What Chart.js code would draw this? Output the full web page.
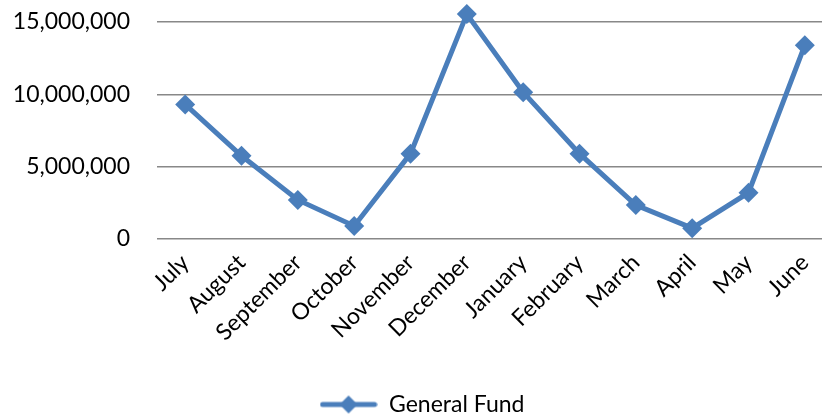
<!DOCTYPE html>
<html>
<head>
<meta charset="utf-8">
<script src="https://cdn.jsdelivr.net/npm/chart.js@4"></script>
<style>
  html, body { margin: 0; padding: 0; background: #fff; overflow: hidden; }
  #wrap { width: 822px; height: 414px; overflow: hidden; }
  #wrap div { width: 860px; height: 414px; }
</style>
</head>
<body>
<div id="wrap"><div><canvas id="chart"></canvas></div></div>
<script>
const months = ['July', 'August', 'September', 'October', 'November', 'December',
    'January', 'February', 'March', 'April', 'May', 'June'];
const generalFund = [9300000, 5750000, 2700000, 900000, 5900000, 15550000,
    10150000, 5900000, 2350000, 750000, 3200000, 13400000];
const yTicks = [0, 5000000, 10000000, 15000000];

const blue = '#4a7ebb';
const font = { family: 'Lato, "Open Sans", sans-serif', size: 23 };

// petit symbole de légende : ligne + losange
const legendIcon = document.createElement('canvas');
legendIcon.width = 58;
legendIcon.height = 22;
const ic = legendIcon.getContext('2d');
ic.strokeStyle = blue;
ic.lineWidth = 5;
ic.lineCap = 'round';
ic.beginPath();
ic.moveTo(3, 11);
ic.lineTo(55, 11);
ic.stroke();
ic.fillStyle = blue;
ic.beginPath();
ic.moveTo(29, 2);
ic.lineTo(38, 11);
ic.lineTo(29, 20);
ic.lineTo(20, 11);
ic.closePath();
ic.fill();

new Chart(document.getElementById('chart'), {
    type: 'line',
    data: {
        labels: months,
        datasets: [{
            label: 'General Fund',
            data: generalFund,
            borderColor: blue,
            backgroundColor: blue,
            borderWidth: 5,
            pointStyle: 'rectRot',
            pointRadius: 10,
            pointBorderWidth: 0,
            tension: 0,
            clip: false
        }]
    },
    options: {
        responsive: true,
        maintainAspectRatio: false,
        animation: false,
        layout: { autoPadding: false, padding: { top: 22, right: 27, left: 11, bottom: -12 } },
        scales: {
            x: {
                offset: true,
                grid: { display: false },
                border: { display: false },
                afterFit: (scale) => { scale.height = 152; },
                ticks: {
                    color: '#000',
                    font: font,
                    maxRotation: 45,
                    minRotation: 45,
                    autoSkip: false,
                    padding: 2
                }
            },
            y: {
                min: 0,
                max: 15000000,
                afterBuildTicks: (axis) => { axis.ticks = yTicks.map(v => ({ value: v })); },
                afterFit: (scale) => {
                    scale.width = 146;
                    scale.paddingTop = 14;
                    scale.paddingBottom = 14;
                },
                grid: { color: '#888', lineWidth: 1.5, drawTicks: false },
                border: { display: false },
                ticks: {
                    color: '#000',
                    font: font,
                    padding: 27,
                    callback: (v) => v.toLocaleString('en-US')
                }
            }
        },
        plugins: {
            legend: {
                position: 'bottom',
                labels: {
                    color: '#000',
                    font: font,
                    usePointStyle: true,
                    pointStyleWidth: 58,
                    boxHeight: 20,
                    padding: 2,
                    generateLabels: (chart) => [{
                        text: 'General Fund',
                        pointStyle: legendIcon,
                        fillStyle: blue,
                        strokeStyle: blue,
                        lineWidth: 0,
                        datasetIndex: 0
                    }]
                }
            },
            tooltip: { enabled: false }
        }
    }
});
</script>
</body>
</html>
